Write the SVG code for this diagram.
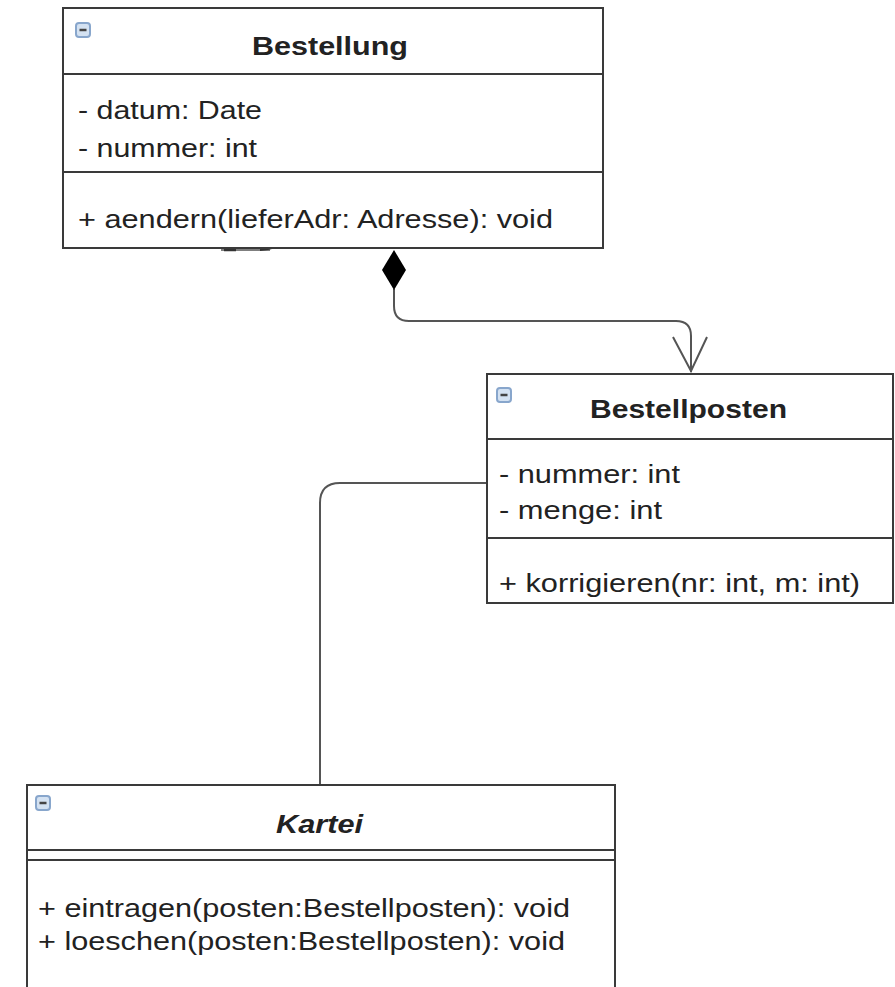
<svg xmlns="http://www.w3.org/2000/svg" width="895" height="987" viewBox="0 0 895 987">
<style>
.box{fill:#fff;stroke:#3a3a3a;stroke-width:2}
.div{stroke:#3a3a3a;stroke-width:2}
.t{font-family:"Liberation Sans",Arial,sans-serif;font-size:26px;fill:#222}
.b{font-weight:bold}
.i{font-style:italic}
.icon{fill:#d4e2f2;stroke:#88a6cc;stroke-width:2}
.dash{stroke:#444;stroke-width:2.5}
.con{fill:none;stroke:#555;stroke-width:2}
</style>
<g id="connectors">
<path class="con" d="M394,289 V306 Q394,321 409,321 H676 Q691,321 691,336 V372"/>
<polygon points="394,250 406,270 394,290 382,270" fill="#000"/>
<path class="con" d="M673,337 L691,371 L707,337"/>
<path class="con" d="M487,483 H340 Q320,483 320,503 V785"/>
<path d="M221,250 H270" fill="none" stroke="#555" stroke-width="1.5"/>
<path d="M224,250 H236" fill="none" stroke="#333" stroke-width="2.5"/>
<path d="M260,248 L272,249.5 L260,251 Z" fill="#333"/>
</g>
<g id="Bestellung">
<rect class="box" x="63" y="8" width="540" height="240"/>
<line class="div" x1="63" y1="74" x2="603" y2="74"/>
<line class="div" x1="63" y1="172" x2="603" y2="172"/>
<rect class="icon" x="76" y="23" width="14" height="14" rx="3"/>
<line class="dash" x1="79.5" y1="30" x2="86.5" y2="30"/>
<text class="t b" x="252" y="55" textLength="156" lengthAdjust="spacingAndGlyphs">Bestellung</text>
<text class="t" x="78" y="119" textLength="184" lengthAdjust="spacingAndGlyphs">- datum: Date</text>
<text class="t" x="78" y="157" textLength="179" lengthAdjust="spacingAndGlyphs">- nummer: int</text>
<text class="t" x="78" y="228" textLength="475" lengthAdjust="spacingAndGlyphs">+ aendern(lieferAdr: Adresse): void</text>
</g>
<g id="Bestellposten">
<rect class="box" x="487" y="374" width="406" height="229"/>
<line class="div" x1="487" y1="439" x2="893" y2="439"/>
<line class="div" x1="487" y1="538" x2="893" y2="538"/>
<rect class="icon" x="497" y="388" width="14" height="14" rx="3"/>
<line class="dash" x1="500.5" y1="395" x2="507.5" y2="395"/>
<text class="t b" x="590" y="418" textLength="197" lengthAdjust="spacingAndGlyphs">Bestellposten</text>
<text class="t" x="499" y="483" textLength="181" lengthAdjust="spacingAndGlyphs">- nummer: int</text>
<text class="t" x="499" y="519" textLength="163" lengthAdjust="spacingAndGlyphs">- menge: int</text>
<text class="t" x="499" y="592" textLength="361" lengthAdjust="spacingAndGlyphs">+ korrigieren(nr: int, m: int)</text>
</g>
<g id="Kartei">
<rect class="box" x="27" y="785" width="588" height="210"/>
<line class="div" x1="27" y1="850" x2="615" y2="850"/>
<line class="div" x1="27" y1="860" x2="615" y2="860"/>
<rect class="icon" x="36" y="796" width="14" height="14" rx="3"/>
<line class="dash" x1="39.5" y1="803" x2="46.5" y2="803"/>
<text class="t b i" x="276" y="833" textLength="87" lengthAdjust="spacingAndGlyphs">Kartei</text>
<text class="t" x="38" y="917" textLength="532" lengthAdjust="spacingAndGlyphs">+ eintragen(posten:Bestellposten): void</text>
<text class="t" x="38" y="950" textLength="527" lengthAdjust="spacingAndGlyphs">+ loeschen(posten:Bestellposten): void</text>
</g>
</svg>
